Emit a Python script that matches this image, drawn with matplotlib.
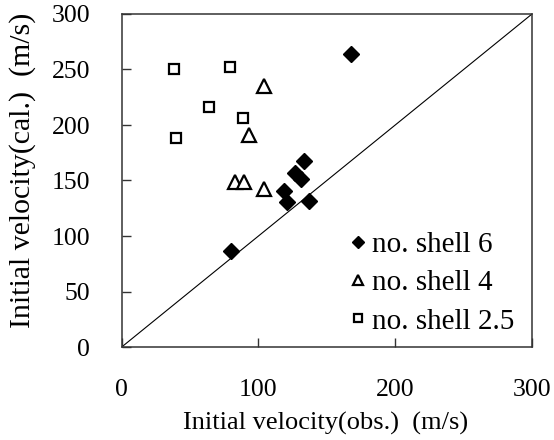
import matplotlib
matplotlib.use("Agg")
import matplotlib.pyplot as plt

# data
shell6_x = [168, 80, 133.5, 126.7, 130.8, 118.6, 120.6, 136.9]
shell6_y = [263.7, 86.8, 167.6, 156.5, 151.0, 140.8, 131.0, 131.2]
shell4_x = [104, 92.8, 82.6, 89.6, 104]
shell4_y = [235.3, 190.7, 148.9, 148.9, 142.5]
shell25_x = [38.2, 79, 64, 88.7, 39.7]
shell25_y = [250.5, 252.5, 216.5, 206.6, 188.3]
xticks = [0, 100, 200, 300]
yticks = [0, 50, 100, 150, 200, 250, 300]
labels = ["no. shell 6", "no. shell 4", "no. shell 2.5"]

plt.rcParams['font.family'] = ['Liberation Serif', 'DejaVu Serif']

W, H = 554, 440
fig = plt.figure(figsize=(W / 100, H / 100), dpi=100)
ax = fig.add_axes([121.7 / W, 1 - 347 / H, (532 - 121.7) / W, (347 - 14) / H])

ax.plot([0, 300], [0, 300], color='black', lw=0.8, zorder=1)
ax.plot(shell6_x, shell6_y, linestyle='none', marker='D', ms=8.1, color='black',
        label=labels[0], zorder=3)
ax.plot(shell4_x, shell4_y, linestyle='none', marker='^', ms=9.4, mfc='white',
        mec='black', mew=1.6, label=labels[1], zorder=3)
ax.plot(shell25_x, shell25_y, linestyle='none', marker='s', ms=7.2, mfc='white',
        mec='black', mew=1.6, label=labels[2], zorder=3)

ax.set_xlim(0, 300)
ax.set_ylim(0, 300)
ax.set_xticks(xticks)
ax.set_yticks(yticks)
ax.tick_params(direction='in', length=6.5, width=1, color='#333333',
               labelsize=18.5, top=False, right=False)
ax.tick_params(axis='y', pad=22.8)
ax.tick_params(axis='x', pad=23)
for s in ax.spines.values():
    s.set_linewidth(1.1)
    s.set_color('#333333')

fs = 21
leg = ax.legend(loc='upper left', bbox_to_anchor=(349 / W, 1 - 232 / H),
                bbox_transform=fig.transFigure, frameon=False, borderpad=0,
                handlelength=0.6, handletextpad=0.18, labelspacing=0.4,
                markerscale=0.8, fontsize=fs, borderaxespad=0)

fig.text(326 / W, 1 - 423 / H, "Initial velocity(obs.)  (m/s)", ha='center',
         va='center', fontsize=19)
fig.text(23 / W, 1 - 328 / H, "Initial velocity(cal.)  (m/s)", ha='center',
         va='bottom', rotation=90, fontsize=21.5)

fig.savefig("out.png", dpi=100)
